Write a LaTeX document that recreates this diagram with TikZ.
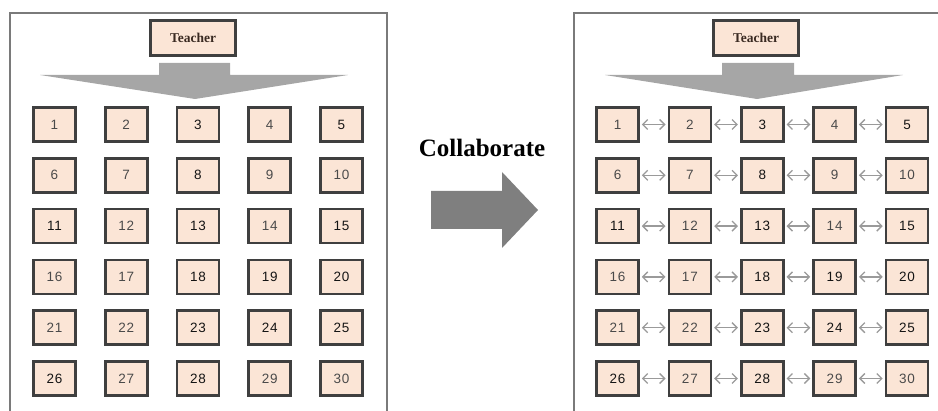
\documentclass[tikz,border=0pt]{standalone}
\usepackage{fontspec}
\setmainfont{Liberation Serif}
\setsansfont{Liberation Sans}[LetterSpace=6]
\usetikzlibrary{arrows.meta}
\definecolor{framegray}{HTML}{7A7A7A}
\definecolor{boxline}{HTML}{3F3F3F}
\definecolor{peach}{HTML}{FBE5D6}
\definecolor{fanarrow}{HTML}{A6A6A6}
\definecolor{bigarrow}{HTML}{7F7F7F}
\definecolor{linkgray}{HTML}{9A9A9A}
\definecolor{numdark}{HTML}{141414}
\definecolor{numlight}{HTML}{4A4A4A}
\definecolor{teachertext}{HTML}{3A2A22}
\begin{document}
\begin{tikzpicture}[x=1pt,y=-1pt,
  panel/.style={draw=framegray,line width=2.6pt},
  seat/.style={draw=boxline,fill=peach,line width=2.6pt,minimum width=42pt,
    minimum height=34pt,inner sep=0pt,font=\sffamily\fontsize{13.5}{13.5}\selectfont},
  teacherbox/.style={seat,minimum width=85pt,minimum height=35pt,
    font=\rmfamily\bfseries\fontsize{13.5}{14}\selectfont,text=teachertext},
  fan/.style={fill=fanarrow},
  link/.style={draw=linkgray,line width=1.3pt,
    {Straight Barb[length=5pt,width=10pt]}-{Straight Barb[length=5pt,width=10pt]},
    shorten >=2pt,shorten <=2pt}
]
\useasboundingbox (0,0) rectangle (938,411);
\clip (0,0) rectangle (938,411);

% classroom frames (open at the bottom / right edge of the page)
\draw[panel] (10,13) rectangle (387,440);
\draw[panel] (574,13) rectangle (980,440);

% teacher boxes and the fan-shaped arrows under them
\node[teacherbox] (tL) at (193,38) {Teacher};
\node[teacherbox] (tR) at (756,38) {Teacher};
\fill[fan] (159,63) -- (230,63) -- (230,75) -- (348,75) -- (195,99) -- (40,75) -- (159,75) -- cycle;
\fill[fan] (722,63) -- (794,63) -- (794,75) -- (903,75) -- (757,99) -- (605,75) -- (722,75) -- cycle;

% seats
\foreach \n/\c in {1/numlight,2/numlight,3/numdark,4/numlight,5/numdark,
  6/numlight,7/numlight,8/numdark,9/numlight,10/numlight,
  11/numdark,12/numlight,13/numdark,14/numlight,15/numdark,
  16/numlight,17/numlight,18/numdark,19/numdark,20/numdark,
  21/numlight,22/numlight,23/numdark,24/numdark,25/numdark,
  26/numdark,27/numlight,28/numdark,29/numlight,30/numlight}{
  \pgfmathtruncatemacro{\col}{mod(\n-1,5)}
  \pgfmathtruncatemacro{\row}{int((\n-1)/5)}
  \node[seat,text=\c] (L\n) at ({54.5+71.75*\col},{124.5+50.8*\row}) {\n};
  \node[seat,text=\c] (R\n) at ({617.5+72.375*\col},{124.5+50.8*\row}) {\n};
}

% collaboration links between neighbours
\foreach \a in {1,6,11,16,21,26}{
  \foreach \k in {0,1,2,3}{
    \pgfmathtruncatemacro{\p}{\a+\k}
    \pgfmathtruncatemacro{\q}{\a+\k+1}
    \draw[link] (R\p.east) -- (R\q.west);
  }
}

% central arrow
\node[font=\rmfamily\bfseries\fontsize{25}{25}\selectfont,anchor=base,inner sep=0pt] (collab) at (482,157) {Collaborate};
\fill[bigarrow] (431,191) -- (502,191) -- (502,172) -- (538,210) -- (502,248) -- (502,229) -- (431,229) -- cycle;
\end{tikzpicture}
\end{document}
